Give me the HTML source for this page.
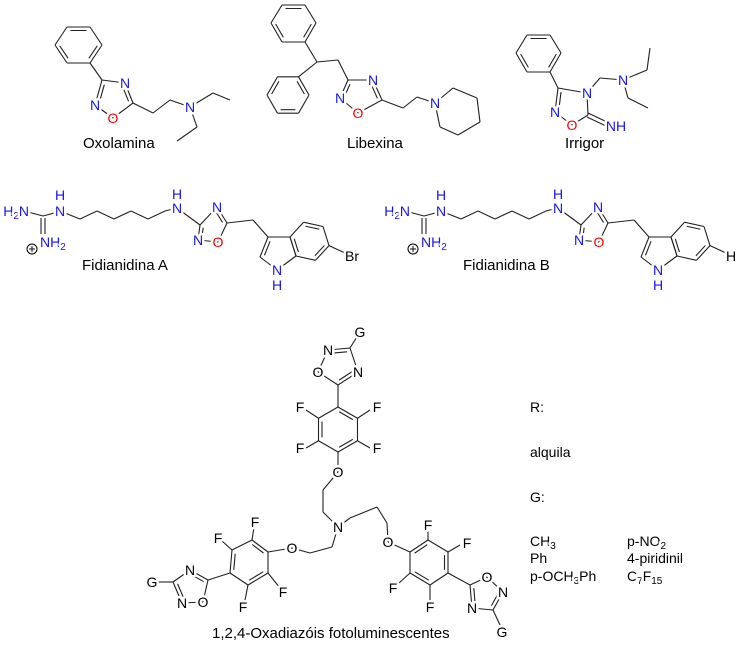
<!DOCTYPE html>
<html><head><meta charset="utf-8">
<style>
html,body{margin:0;padding:0;background:#fff;width:742px;height:650px;overflow:hidden}
svg{position:absolute;left:0;top:0}
line{stroke:#222;stroke-width:1.1}
text{font-family:"Liberation Sans",Arial,sans-serif}
.a{paint-order:stroke;stroke:#fff;stroke-width:5px;stroke-linejoin:round;font-size:14px}
.t{font-size:15px;fill:#000}
</style></head><body>
<svg id="s" width="742" height="650" viewBox="0 0 742 650"></svg>
<script>
var s='',lab='';
var NB='#1515f0',OR='#f00',BK='#000';
function L(a,b,c,d){s+='<line x1="'+a+'" y1="'+b+'" x2="'+c+'" y2="'+d+'"/>';}
function P(p,close){for(var i=0;i<p.length-1;i++)L(p[i][0],p[i][1],p[i+1][0],p[i+1][1]);if(close)L(p[p.length-1][0],p[p.length-1][1],p[0][0],p[0][1]);}
function cen(p){var x=0,y=0;p.forEach(function(q){x+=q[0];y+=q[1]});return[x/p.length,y/p.length];}
function D(p,q,c,sh,off){sh=(sh===undefined)?0.15:sh;off=off||3.5;var dx=q[0]-p[0],dy=q[1]-p[1],l=Math.hypot(dx,dy);var nx=-dy/l,ny=dx/l;var mx=(p[0]+q[0])/2,my=(p[1]+q[1])/2;if(nx*(c[0]-mx)+ny*(c[1]-my)<0){nx=-nx;ny=-ny;}
L(p[0]+dx*sh+nx*off,p[1]+dy*sh+ny*off,q[0]-dx*sh+nx*off,q[1]-dy*sh+ny*off);}
function R(p,dbl){P(p,true);var c=cen(p);dbl.forEach(function(i){D(p[i],p[(i+1)%p.length],c)});}
function T(x,y,str,col,anc,cls){lab+='<text class="'+(cls||'a')+'" x="'+x+'" y="'+(y+5)+'" fill="'+(col||BK)+'" text-anchor="'+(anc||'middle')+'">'+str+'</text>';}
function hex(cx,cy,r,a0){var p=[];for(var i=0;i<6;i++){var a=(a0+60*i)*Math.PI/180;p.push([cx+r*Math.cos(a),cy+r*Math.sin(a)]);}return p;}
var sub=function(x){return '<tspan dy="3" font-size="10">'+x+'</tspan>';};

/* Oxolamina */
R([[67,27],[90,27],[102,45],[90,63],[67,63],[55,45]],[0,2,4]);
L(90,63,102,80);
var o=[[102,80],[125,83],[133,103],[113,118],[95,105]];
P(o,true);var oc=cen(o);D(o[0],o[4],oc);D(o[1],o[2],oc);
P([[133,103],[153,113],[170,100],[190,107],[213,93],[230,100]]);
P([[190,107],[197,127],[177,141]]);
T(125,83,'N',NB);T(113,118,'O',OR);T(95,105,'N',NB);T(190,107,'N',NB);
T(83,148-5,'Oxolamina',BK,'start','t');

/* Libexina */
R([[282,5],[305,5],[316,23],[305,42],[282,42],[271,23]],[0,2,4]);
var r2=hex(288,95,21,-60);R(r2,[0,2,4]);
L(305,42,317,62);L(317,62,r2[0][0],r2[0][1]);L(317,62,338,60);L(338,60,348,80);
o=[[348,80],[373,80],[382,100],[358,113],[340,98]];P(o,true);oc=cen(o);D(o[0],o[4],oc);D(o[1],o[2],oc);
P([[382,100],[403,108],[417,97],[435,103]]);
P([[435,103],[453,88],[477,98],[480,122],[458,135],[440,127],[435,103]]);
T(373,80,'N',NB);T(358,113,'O',OR);T(340,98,'N',NB);T(435,103,'N',NB);
T(347,148-5,'Libexina',BK,'start','t');

/* Irrigor */
R([[527,35],[550,35],[561,53],[550,72],[527,72],[516,53]],[0,2,4]);
L(550,72,558,88);
o=[[558,88],[587,93],[588,115],[572,125],[555,112]];P(o,true);oc=cen(o);D(o[0],o[4],oc);
L(588,113,607,122);L(587,117,606,126);
P([[587,93],[600,78],[623,80]]);P([[623,80],[647,70],[650,48]]);P([[623,80],[628,98],[648,108]]);
T(587,93,'N',NB);T(572,125,'O',OR);T(555,112,'N',NB);T(623,80,'N',NB);T(616,126,'NH',NB);
T(565,148-5,'Irrigor',BK,'start','t');

/* Fidianidinas */
function F(dx,endLabel,name){
 function X(x){return x+dx;}
 L(X(28),212,X(43),216);L(X(43),216,X(58),212);
 L(X(41),218,X(41),234);L(X(45),218,X(45),234);
 P([[X(60),211],[X(80),219],[X(97),211],[X(114),219],[X(131),211],[X(148),219],[X(165),211],[X(177),208]]);
 L(X(177),208,X(200),225);
 var o=[[X(200),225],[X(217),207],[X(227),223],[X(218),242],[X(198),240]];P(o,true);var oc=cen(o);D(o[0],o[4],oc);D(o[1],o[2],oc);
 L(X(227),223,X(253),220);L(X(253),220,X(268),237);
 var pyr=[[X(268),237],[X(290),237],[X(296),256],[X(277),270],[X(260),257]];P(pyr,true);D(pyr[4],pyr[0],cen(pyr));
 var bz=[[X(290),237],[X(303.5),222.2],[X(323),226.5],[X(329),245.6],[X(315.5),260.3],[X(296),256]];
 P(bz,true);var bc=cen(bz);D(bz[1],bz[2],bc);D(bz[3],bz[4],bc);D(bz[5],bz[0],bc);
 L(X(329),245.6,X(345),253);
 T(X(29),211,'H'+sub('2')+'<tspan dy="-3">N</tspan>',NB,'end');
 T(X(60),211,'N',NB);T(X(60),195,'H',NB);
 T(X(177),208,'N',NB);T(X(177),194,'H',NB);
 T(X(217),207,'N',NB);T(X(218),242,'O',OR);T(X(198),240,'N',NB);
 T(X(277),270,'N',NB);T(X(277),285,'H',NB);
 T(X(40),242,'NH'+sub('2'),NB,'start');
 s+='<circle cx="'+X(32)+'" cy="249" r="5" fill="none" stroke="#000" stroke-width="1"/>';
 L(X(29),249,X(35),249);L(X(32),246,X(32),252);
 T(X(345),256,endLabel,BK,'start');
 T(X(82),270-5,name,BK,'start','t');
}
F(0,'Br','Fidianidina A');F(381,'H','Fidianidina  B');

/* bottom structure */
var tr=hex(338,429.5,22.5,-90);R(tr,[0,2,4]);
L(338,407,338,385);
o=[[350,348],[358,372],[338,385],[318,372],[328,350]];P(o,true);oc=cen(o);D(o[4],o[0],oc);D(o[1],o[2],oc);
L(350,348,360,332);
L(tr[1][0],tr[1][1],370,410);L(tr[2][0],tr[2][1],370,448);L(tr[4][0],tr[4][1],306,448);L(tr[5][0],tr[5][1],306,410);
P([[338,452],[338,472],[323,490],[323,512],[338,527],[350,518],[377,507],[387,523],[388,542],[410,552]]);
P([[338,527],[332,547],[310,553],[292,548],[268,552]]);
var lr=[[252,540],[268,552],[268,573],[248,585],[230,573],[232,550]];R(lr,[0,2,4]);
L(252,540,254,527);L(232,550,222,541);L(268,573,280,588);L(248,585,245,600);
o=[[208,580],[190,570],[173,582],[182,603],[203,602]];P(o,true);oc=cen(o);D(o[0],o[1],oc);D(o[2],o[3],oc);
L(208,580,230,573);L(173,582,157,582);
var rr=[[410,552],[428,540],[448,552],[448,573],[430,585],[410,573]];R(rr,[0,2,4]);
L(428,540,428,530);L(448,552,460,545);L(410,573,399,583);L(430,585,430,600);
o=[[470,585],[487,577],[503,592],[493,610],[472,608]];P(o,true);oc=cen(o);D(o[0],o[4],oc);D(o[2],o[3],oc);
L(448,573,470,585);L(493,610,500,625);
T(360,332,'G');T(328,350,'N',BK);T(358,372,'N');T(318,372,'O');
T(300,407,'F');T(377,407,'F');T(300,448,'F');T(377,448,'F');
T(338,472,'O');T(338,527,'N');T(388,542,'O');T(292,548,'O');
T(255,522,'F');T(218,538,'F');T(283,592,'F');T(243,607,'F');
T(190,570,'N');T(152,582,'G');T(182,603,'N');T(203,602,'O');
T(428,525,'F');T(467,543,'F');T(393,588,'F');T(430,607,'F');
T(487,577,'O');T(503,592,'N');T(472,608,'N');T(502,632,'G');
T(212,638-5,'1,2,4-Oxadiazóis fotoluminescentes',BK,'start','t');
T(530,407,'R:',BK,'start');T(530,452,'alquila',BK,'start');T(530,497,'G:',BK,'start');
T(530,541,'CH'+sub('3'),BK,'start');T(530,558,'Ph',BK,'start');
T(530,576,'p-OCH'+sub('3')+'<tspan dy="-3">Ph</tspan>',BK,'start');
T(627,541,'p-NO'+sub('2'),BK,'start');
T(627,558,'4-piridinil',BK,'start');
T(627,576,'C'+sub('7')+'<tspan dy="-3">F</tspan>'+sub('15'),BK,'start');
document.getElementById('s').innerHTML=s+lab;
</script>
</body></html>
